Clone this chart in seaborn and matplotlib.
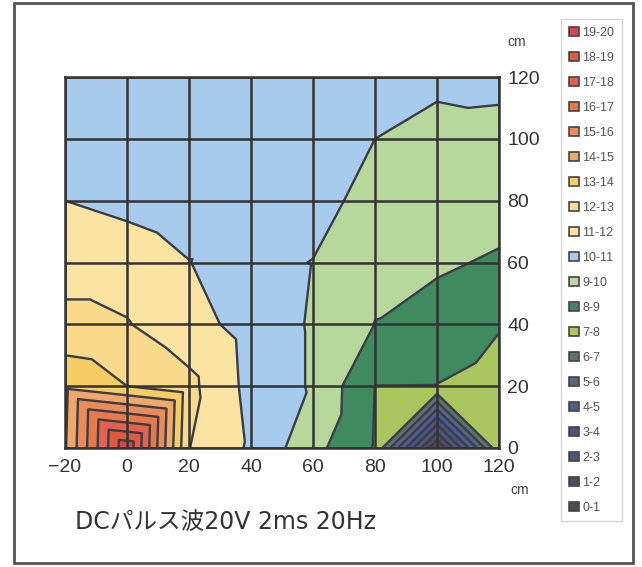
import numpy as np
import matplotlib.pyplot as plt
import matplotlib.tri as mtri
from matplotlib.patches import Patch, Rectangle
import seaborn as sns

# 測定点 (cm)
x_cm = [-20, 0, 20, 40, 60, 80, 100, 120]
y_cm = [0, 20, 40, 60, 80, 100, 120]

# 各測定点の値 (y ごとの行)
z_y0 = [13.9, 19.8, 12.02, 10.86, 9.31, 7.93, 0.0, 7.8]
z_y20 = [13.73, 13.0, 12.26, 10.69, 9.9, 7.99, 7.98, 7.7]
z_y40 = [12.27, 12.05, 11.4, 10.6, 9.9, 8.98, 8.5, 8.05]
z_y60 = [11.6, 11.6, 11.03, 10.2, 9.98, 9.3, 9.17, 8.85]
z_y80 = [11.0, 10.7, 10.36, 10.5, 10.3, 9.7, 9.5, 9.5]
z_y100 = [10.5, 10.5, 10.5, 10.5, 10.5, 10.0, 9.55, 9.45]
z_y120 = [10.5, 10.5, 10.5, 10.5, 10.5, 10.5, 10.3, 10.45]

levels = list(range(0, 21))
band_labels = [f"{i}-{i + 1}" for i in range(20)]
band_colors = ['#4c4c4c', '#4a4e60', '#4b5678', '#475580', '#4a5f92',
               '#56667e', '#5a746e', '#a9c75e', '#3f8a5e', '#b6d89b',
               '#a6cbec', '#fbe4a2', '#f9d98a', '#f6cd62', '#f0a76a',
               '#ea8c58', '#e87a48', '#e2624f', '#df5a40', '#d8464c']

sns.set_theme(style='white')
plt.rcParams['font.family'] = ['Liberation Sans', 'DejaVu Sans']

# 格子を三角形に分割 (値の和が大きい方の対角線で切る)
Z = np.array([z_y0, z_y20, z_y40, z_y60, z_y80, z_y100, z_y120])
X, Y = np.meshgrid(x_cm, y_cm)
nx, ny = len(x_cm), len(y_cm)
triangles = []
for j in range(ny - 1):
    for i in range(nx - 1):
        a = j * nx + i      # 左下
        b = a + 1           # 右下
        c = a + nx + 1      # 右上
        d = a + nx          # 左上
        if Z[j, i] + Z[j + 1, i + 1] >= Z[j, i + 1] + Z[j + 1, i]:
            triangles += [[a, b, c], [a, c, d]]
        else:
            triangles += [[a, b, d], [b, c, d]]
tri = mtri.Triangulation(X.ravel(), Y.ravel(), triangles)

fig = plt.figure(figsize=(6.42, 5.67), dpi=100)
ax = fig.add_axes([65 / 642, 1 - 448 / 567, 434 / 642, 371 / 567])

ax.tricontourf(tri, Z.ravel(), levels=levels, colors=band_colors)
ax.tricontour(tri, Z.ravel(), levels=levels[1:-1], colors='#3c3c48', linewidths=1.7)

ax.set_xlim(-20, 120)
ax.set_ylim(0, 120)
ax.set_xticks(x_cm)
ax.set_yticks(y_cm)
ax.yaxis.tick_right()
ax.tick_params(length=0, labelsize=14, colors='#333333')
ax.tick_params(axis='x', pad=8)
ax.tick_params(axis='y', pad=6)
ax.set_axisbelow(False)
ax.grid(True, color='#333333', linewidth=1.8)
for s in ax.spines.values():
    s.set_color('#333333')
    s.set_linewidth(1.8)

fig.text(517 / 642, 1 - 42 / 567, 'cm', fontsize=10, color='#444444', ha='center', va='center')
fig.text(520 / 642, 1 - 490 / 567, 'cm', fontsize=10, color='#444444', ha='center', va='center')
fig.text(75 / 642, 1 - 522 / 567, 'DCパルス波20V 2ms 20Hz', fontsize=17, color='#333333',
         va='center', family=['DejaVu Sans', 'Noto Sans CJK JP'])

handles = [Patch(facecolor=band_colors[i], edgecolor='#444444', linewidth=1.2, label=band_labels[i])
           for i in range(19, -1, -1)]
leg = fig.legend(handles=handles, loc='upper left', bbox_to_anchor=(555 / 642, 1 - 13 / 567),
                 fontsize=9, frameon=True, fancybox=False, handlelength=0.8, handleheight=0.8,
                 handletextpad=0.3, labelspacing=1.03, borderpad=0.6, labelcolor='#555555')
leg.get_frame().set_edgecolor('#cccccc')
leg.get_frame().set_linewidth(1.0)

fig.add_artist(Rectangle((14 / 642, 4 / 567), 619 / 642, 560 / 567, transform=fig.transFigure,
                         fill=False, edgecolor='#555555', linewidth=2))

fig.savefig('out.png', dpi=100)
